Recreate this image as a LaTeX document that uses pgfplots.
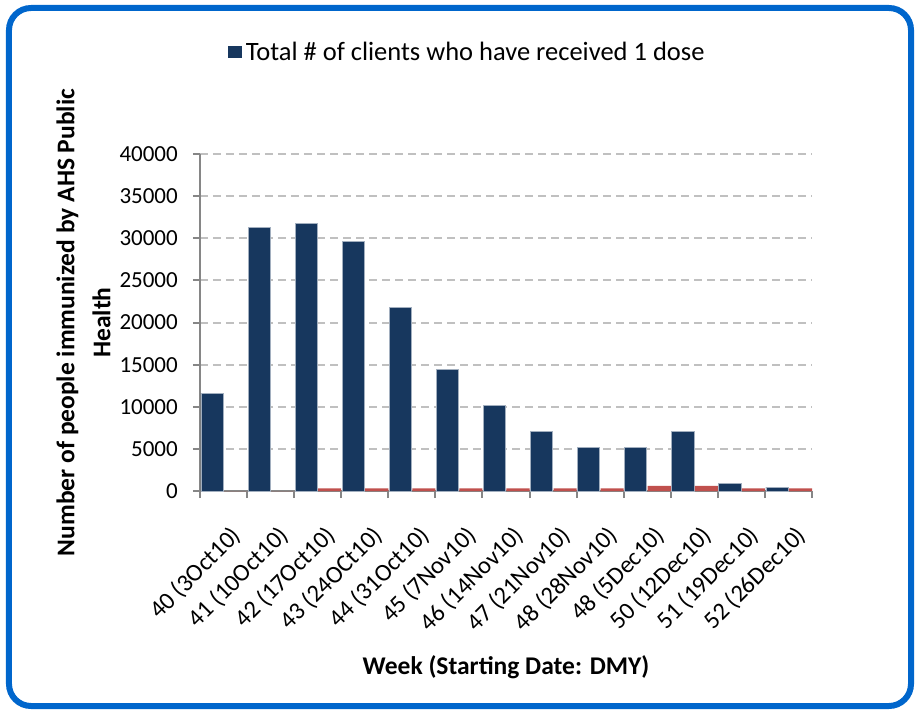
\documentclass[border=0pt]{standalone}
\usepackage{pgfplots}
\pgfplotsset{compat=1.18}
\usepackage{fontspec}
\setmainfont{Carlito}
\definecolor{barblue}{RGB}{23,55,94}
\definecolor{barred}{RGB}{192,80,77}
\definecolor{frameblue}{RGB}{0,102,204}
\definecolor{axisgray}{RGB}{134,134,134}
\definecolor{gridgray}{RGB}{192,192,192}
\begin{document}
\begin{tikzpicture}
\useasboundingbox (-200pt,-222pt) rectangle (715pt,491pt);
\begin{axis}[
  at={(0pt,0pt)}, anchor=south west,
  scale only axis, width=612pt, height=337pt,
  xmin=-0.5, xmax=12.5, ymin=0, ymax=40000,
  axis x line*=bottom, axis y line*=left,
  axis line style={draw=axisgray, line width=2pt, -},
  ytick={0,5000,...,40000},
  scaled y ticks=false,
  ymajorgrids,
  major grid style={draw=gridgray, line width=2pt, dash pattern=on 8pt off 5pt},
  xtick={0,...,12},
  xticklabels={40 (3Oct10),41 (10Oct10),42 (17Oct10),43 (24OCt10),44 (31Oct10),45 (7Nov10),46 (14Nov10),47 (21Nov10),48 (28Nov10),48 (5Dec10),50 (12Dec10),51 (19Dec10),52 (26Dec10)},
  minor xtick={-0.5,0.5,...,12.5},
  tick align=outside,
  major tick length=7pt, minor tick length=7pt,
  every tick/.style={draw=axisgray, line width=2pt},
  major x tick style={draw=none},
  /pgf/number format/assume math mode=true,
  yticklabel style={font=\fontsize{23}{27}\selectfont, /pgf/number format/1000 sep={}, inner sep=0pt, xshift=-15pt},
  xticklabel style={font=\fontsize{24.5}{28}\selectfont, inner sep=0pt, xshift=6pt, yshift=-26pt, rotate=45, anchor=north east},
  ylabel={Number of people immunized by AHS Public\\Health},
  ylabel style={font=\bfseries\fontsize{25.5}{36}\selectfont, align=center, at={(axis description cs:-0.1905,0.5)}, anchor=center},
  xlabel={Week (Starting Date: DMY)},
  xlabel style={font=\bfseries\fontsize{25.5}{30}\selectfont, at={(axis description cs:0.5,-0.5445)}, anchor=base},
  legend style={at={(axis description cs:0.046,1.3027)}, anchor=west, draw=none, fill=none, inner sep=0pt,
    font=\fontsize{26.5}{31}\selectfont, nodes={inner sep=3.5pt}},
  legend image code/.code={\fill[#1,draw=none] (0pt,-6pt) rectangle (14pt,6pt);},
]
\addplot[ybar, bar width=0.47, bar shift=-0.245, fill=barblue, draw=white!60!barblue, line width=0.6pt]
  coordinates {(0,11600) (1,31250) (2,31730) (3,29600) (4,21760) (5,14440) (6,10170) (7,7080) (8,5180) (9,5180) (10,7080) (11,950) (12,475)};
\addlegendentry{Total \# of clients who have received 1 dose}
\addplot[ybar, bar width=0.49, bar shift=0.255, fill=barred, draw=none, forget plot]
  coordinates {(0,0) (1,0) (2,300) (3,300) (4,300) (5,300) (6,300) (7,300) (8,300) (9,600) (10,600) (11,300) (12,300)};
\end{axis}
\draw[frameblue, line width=6pt, rounded corners=22pt] (-191pt,-215pt) rectangle (711pt,483pt);
\end{tikzpicture}
\end{document}
